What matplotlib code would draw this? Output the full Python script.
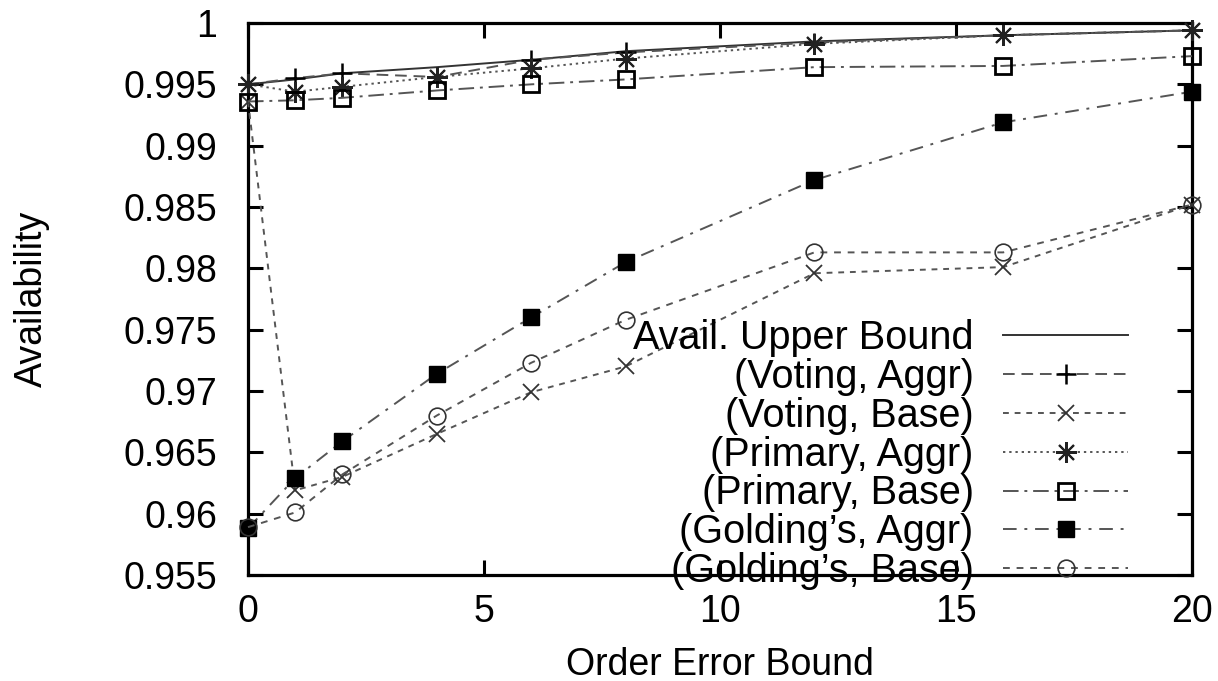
import matplotlib
matplotlib.use("Agg")
import matplotlib.pyplot as plt
from matplotlib.ticker import FixedLocator, FixedFormatter

# ---- data ----
order_error_bound = [0, 1, 2, 4, 6, 8, 12, 16, 20]
upper_bound      = [0.9950, 0.9954, 0.9959, 0.9964, 0.9970, 0.9977, 0.9985, 0.9990, 0.9994]
voting_aggr      = [0.9950, 0.9955, 0.9959, 0.9956, 0.9970, 0.9976, 0.9984, 0.9990, 0.9994]
voting_base      = [0.9936, 0.9619, 0.9630, 0.9665, 0.9699, 0.9720, 0.9796, 0.9801, 0.9852]
primary_aggr     = [0.9950, 0.9944, 0.9948, 0.9956, 0.9963, 0.9971, 0.9983, 0.9990, 0.9994]
primary_base     = [0.9936, 0.9937, 0.9939, 0.9945, 0.9950, 0.9954, 0.9964, 0.9965, 0.9973]
golding_aggr     = [0.9588, 0.9629, 0.9659, 0.9714, 0.9760, 0.9805, 0.9872, 0.9919, 0.9944]
golding_base     = [0.9589, 0.9601, 0.9632, 0.9680, 0.9723, 0.9758, 0.9813, 0.9813, 0.9852]

series_labels = ["Avail. Upper Bound", "(Voting, Aggr)", "(Voting, Base)",
                 "(Primary, Aggr)", "(Primary, Base)", "(Golding\u2019s, Aggr)",
                 "(Golding\u2019s, Base)"]

xticks = [0, 5, 10, 15, 20]
xtick_labels = ["0", "5", "10", "15", "20"]
yticks = [0.955, 0.96, 0.965, 0.97, 0.975, 0.98, 0.985, 0.99, 0.995, 1.0]
ytick_labels = ["0.955", "0.96", "0.965", "0.97", "0.975", "0.98", "0.985", "0.99", "0.995", "1"]

x_label = "Order Error Bound"
y_label = "Availability"

# ---- figure ----
plt.rcParams['font.family'] = ['Liberation Sans', 'DejaVu Sans']
fig = plt.figure(figsize=(12.18, 6.81), dpi=100)
ax = fig.add_axes([248 / 1218, (681 - 575) / 681, (1192 - 248) / 1218, (575 - 23) / 681])

line_col = '#555555'
lw = 1.4
styles = [
    dict(color='#333333', linestyle='-', marker=None),
    dict(color=line_col, dashes=(6, 3.5), marker='+', ms=15, mew=1.8, mec='black'),
    dict(color=line_col, dashes=(3, 3), marker='x', ms=12, mew=1.3, mec='#333333'),
    dict(color=line_col, dashes=(1.2, 2.0), marker=(8, 2, 0), ms=15, mew=1.5, mec='#222222'),
    dict(color=line_col, dashes=(8, 3, 1.5, 3), marker='s', ms=12, mew=2.0, mec='black', mfc='none'),
    dict(color=line_col, dashes=(7, 4, 1.5, 4), marker='s', ms=12, mew=1.0, mec='black', mfc='black'),
    dict(color=line_col, dashes=(3.5, 3.5), marker='o', ms=12, mew=1.2, mec='#333333', mfc='none'),
]
all_series = [upper_bound, voting_aggr, voting_base, primary_aggr,
              primary_base, golding_aggr, golding_base]

for ys, lab, st in zip(all_series, series_labels, styles):
    ax.plot(order_error_bound, ys, label=lab, lw=lw, clip_on=False, zorder=3, **st)

ax.set_xlim(0, 20)
ax.set_ylim(0.955, 1.0)
ax.xaxis.set_major_locator(FixedLocator(xticks))
ax.xaxis.set_major_formatter(FixedFormatter(xtick_labels))
ax.yaxis.set_major_locator(FixedLocator(yticks))
ax.yaxis.set_major_formatter(FixedFormatter(ytick_labels))

for sp in ax.spines.values():
    sp.set_linewidth(2.3)
    sp.set_color('black')
ax.tick_params(direction='in', length=11, width=2.2, top=True, right=True,
               labelsize=27, colors='black')
ax.tick_params(axis='x', pad=14)
ax.tick_params(axis='y', pad=22)

ax.set_xlabel(x_label, fontsize=27)
ax.set_ylabel(y_label, fontsize=27)
ax.xaxis.set_label_coords(0.5, -(647 - 575) / 552)
ax.yaxis.set_label_coords(-(248 - 50) / 944, 0.5)

leg = ax.legend(loc='lower right', bbox_to_anchor=(1128 / 1218, (681 - 590) / 681),
                bbox_transform=fig.transFigure, frameon=False, markerfirst=False,
                fontsize=28.5, handlelength=3.15, handletextpad=0.75, labelspacing=0.02,
                borderpad=0, borderaxespad=0)

fig.savefig("out.png", dpi=100)
